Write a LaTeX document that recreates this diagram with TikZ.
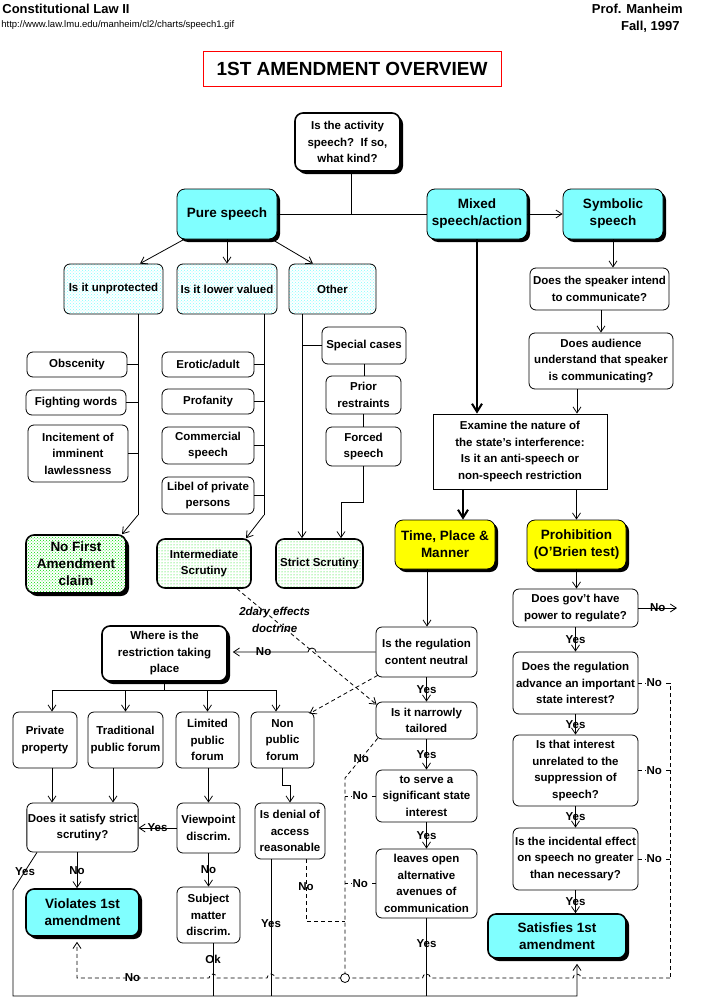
\documentclass[tikz,border=0pt]{standalone}
\usepackage{fontspec}
\setmainfont{Liberation Sans}
\usetikzlibrary{arrows.meta,shadows,patterns}

\definecolor{aqua}{HTML}{80FFFF}
\definecolor{lemon}{HTML}{FFFF00}
\definecolor{dotgreen}{HTML}{00E000}

\tikzset{
  box/.style={draw, line width=0.8pt, rounded corners=6pt, fill=white, align=center,
    inner sep=1pt, font=\bfseries\fontsize{11.5}{16.5}\selectfont},
  sz/.style 2 args={minimum width=#1pt, minimum height=#2pt},
  dropsh/.style={drop shadow={shadow xshift=3pt, shadow yshift=-3pt, fill=black, opacity=1}},
  bigtxt/.style={font=\bfseries\fontsize{13.5}{17}\selectfont},
  heavy/.style={line width=1.6pt},
  keybox/.style={box, bigtxt, rounded corners=8pt, dropsh, fill=aqua},
  sunbox/.style={box, bigtxt, rounded corners=8pt, dropsh, fill=lemon},
  askbox/.style={box, preaction={fill=white}, pattern=crosshatch dots, pattern color=aqua},
  scrbox/.style={box, heavy, rounded corners=8pt, preaction={fill=white}, pattern=dots, pattern color=dotgreen},
  nfabox/.style={box, bigtxt, heavy, rounded corners=8pt, dropsh, preaction={fill=white},
    pattern=crosshatch dots, pattern color=dotgreen},
  link/.style={line width=0.8pt, -{Straight Barb[length=6pt,width=8pt]}},
  fat/.style={line width=2pt, -{Straight Barb[length=8pt,width=10pt]}},
  dashline/.style={line width=0.8pt, dash pattern=on 4pt off 3pt},
  lbl/.style={font=\bfseries\fontsize{11.5}{12}\selectfont, inner sep=1pt},
  nolbl/.style={lbl, fill=white}
}

\begin{document}
\begin{tikzpicture}[x=1pt, y=-1pt, line width=0.8pt]
    \useasboundingbox (0,0) rectangle (708,998);

    % header
    \node[anchor=north west, inner sep=0pt, font=\bfseries\fontsize{13}{15}\selectfont] (course) at (2,4) {Constitutional Law II};
    \node[anchor=north west, inner sep=0pt, font=\fontsize{9.5}{11}\selectfont] (url) at (1,20) {http://www.law.lmu.edu/manheim/cl2/charts/speech1.gif};
    \node[anchor=north east, inner sep=0pt, font=\bfseries\fontsize{13}{15}\selectfont] (prof) at (683,4) {Prof. Manheim};
    \node[anchor=north east, inner sep=0pt, font=\bfseries\fontsize{13}{15}\selectfont] (term) at (680,21) {Fall, 1997};
    \node[draw=red, line width=1pt, sz={298}{35}, font=\bfseries\fontsize{19}{22}\selectfont] (title) at (352,69) {1ST AMENDMENT OVERVIEW};

    % top level
    \node[box, heavy, dropsh, rounded corners=8pt, sz={105}{58}] (act) at (347.5,142) {Is the activity\\speech?\ \ If so,\\what kind?};
    \node[keybox, sz={100}{50}] (ps) at (227,214) {Pure speech};
    \node[keybox, sz={100}{50}] (mx) at (477,214) {Mixed\\speech/action};
    \node[keybox, sz={100}{50}] (sy) at (613,214) {Symbolic\\speech};

    % pure speech branch
    \node[askbox, sz={99}{50}] (unp) at (113.5,289) {Is it unprotected};
    \node[askbox, sz={100}{50}] (low) at (227,289) {Is it lower valued};
    \node[askbox, sz={87}{50}] (oth) at (332.5,289) {Other};
    \node[box, sz={100}{25}] (obs) at (77,364.5) {Obscenity};
    \node[box, sz={100}{25}] (fig) at (76,402.5) {Fighting words};
    \node[box, sz={100}{57}] (inc) at (78,453.5) {Incitement of\\imminent\\lawlessness};
    \node[nfabox, sz={100}{58}] (nfa) at (76,564) {No First\\Amendment\\claim};
    \node[box, sz={92}{25}] (ero) at (208,364.5) {Erotic/adult};
    \node[box, sz={92}{25}] (prf) at (208,401.5) {Profanity};
    \node[box, sz={92}{37}] (com) at (208,445.5) {Commercial\\speech};
    \node[box, sz={92}{37}] (lib) at (208,495.5) {Libel of private\\persons};
    \node[scrbox, sz={94}{49}] (ims) at (204,563.5) {Intermediate\\Scrutiny};
    \node[scrbox, sz={87}{49}] (sts) at (319.5,563.5) {Strict Scrutiny};
    \node[box, sz={84}{37}] (spc) at (364,345.5) {Special cases};
    \node[box, sz={75}{38}] (pri) at (363.5,395) {Prior\\restraints};
    \node[box, sz={75}{39}] (frc) at (363.5,446.5) {Forced\\speech};

    % symbolic / mixed branch
    \node[box, sz={139}{42}] (spk) at (599.5,289) {Does the speaker intend\\to communicate?};
    \node[box, sz={144}{56}] (aud) at (601,361) {Does audience\\understand that speaker\\is communicating?};
    \node[box, sharp corners, sz={174}{75}] (exa) at (520,451.5) {Examine the nature of\\the state's interference:\\Is it an anti-speech or\\non-speech restriction};
    \node[sunbox, sz={100}{49}] (tpm) at (445,544.5) {Time, Place \&\\Manner};
    \node[sunbox, sz={99}{49}] (pro) at (576.5,544.5) {Prohibition\\(O'Brien test)};

    % O'Brien test
    \node[box, sz={125}{38}] (pow) at (575.5,608) {Does gov't have\\power to regulate?};
    \node[box, sz={125}{62}] (adv) at (575.5,683) {Does the regulation\\advance an important\\state interest?};
    \node[box, sz={125}{71}] (unr) at (575.5,770.5) {Is that interest\\unrelated to the\\suppression of\\speech?};
    \node[box, sz={125}{62}] (eff) at (575.5,859) {Is the incidental effect\\on speech no greater\\than necessary?};
    \node[keybox, heavy, sz={138}{44}] (sat) at (557,936) {Satisfies 1st\\amendment};

    % time, place and manner
    \node[box, sz={101}{50}] (cn) at (426.5,652) {Is the regulation\\content neutral};
    \node[box, sz={101}{37}] (nar) at (426.5,720.5) {Is it narrowly\\tailored};
    \node[box, sz={101}{52}] (sig) at (426.5,796) {to serve a\\significant state\\interest};
    \node[box, sz={101}{69}] (alt) at (426.5,883.5) {leaves open\\alternative\\avenues of\\communication};

    % forum analysis
    \node[box, heavy, dropsh, rounded corners=8pt, sz={125}{55}] (whr) at (164.5,653.5) {Where is the\\restriction taking\\place};
    \node[box, sz={64}{56}] (pp) at (45,740) {Private\\property};
    \node[box, sz={75}{56}] (tpf) at (125.5,740) {Traditional\\public forum};
    \node[box, sz={63}{56}] (lpf) at (207.5,740) {Limited\\public\\forum};
    \node[box, sz={63}{56}] (npf) at (282.5,740) {Non\\public\\forum};
    \node[box, sz={111}{49}] (sq) at (82.5,827.5) {Does it satisfy strict\\scrutiny?};
    \node[box, sz={63}{50}] (vpd) at (208.5,828) {Viewpoint\\discrim.};
    \node[box, sz={70}{56}] (den) at (290,831) {Is denial of\\access\\reasonable};
    \node[box, sz={63}{56}] (smd) at (208.5,915) {Subject\\matter\\discrim.};
    \node[keybox, heavy, sz={113}{47}] (vio) at (82.5,912.5) {Violates 1st\\amendment};

    % top connectors
    \draw ([xshift=4pt]act.south) -- ([xshift=4pt]act.south |- ps.east);
    \draw (ps.east) -- (mx.west);
    \draw[link] (mx.east) -- (sy.west);

    % pure speech
    \draw[link] ([xshift=-43pt]ps.south) -- ([xshift=26.5pt]unp.north);
    \draw[link] (ps.south) -- (low.north);
    \draw[link] ([xshift=45pt]ps.south) -- ([xshift=-19.5pt]oth.north);

    \coordinate (uj) at (138,515);
    \draw ([xshift=24.5pt]unp.south) -- (uj);
    \draw[link] (uj) -- ([xshift=46pt]nfa.north);
    \foreach \n in {obs,fig,inc} \draw (\n.east) -- (\n.east -| uj);

    \coordinate (lj) at (264,515);
    \draw ([xshift=37pt]low.south) -- (lj);
    \draw[link] (lj) -- ([xshift=42pt]ims.north);
    \foreach \n in {ero,prf,com,lib} \draw (\n.east) -- (\n.east -| lj);

    \coordinate (oj) at ([xshift=-30.5pt]oth.south);
    \draw[link] (oj) -- ([xshift=-17.5pt]sts.north);
    \draw (spc.west) -- (spc.west -| oj);
    \draw (spc.south) -- (spc.south |- pri.north);
    \draw (pri.south) -- (pri.south |- frc.north);
    \draw[link] (frc.south) -- ++(0,36) -| ([xshift=21.5pt]sts.north);

    % mixed and symbolic
    \draw[fat] (mx.south) -- (mx.south |- exa.north);
    \draw[fat] ([xshift=-57pt]exa.south) -- ([xshift=-57pt]exa.south |- tpm.north);
    \draw[link] (sy.south) -- (sy.south |- spk.north);
    \draw[link] (aud.north |- spk.south) -- (aud.north);
    \draw[link] ([xshift=-24pt]aud.south) -- ([xshift=-24pt]aud.south |- exa.north);
    \draw[link] (pro.north |- exa.south) -- (pro.north);
    \draw[link] (pro.south) -- (pro.south |- pow.north);

    % O'Brien chain
    \coordinate (pno) at (677,608);
    \draw[link] (pow.east) -- node[lbl]{No} (pno);
    \draw[link] (pow.south) -- node[lbl]{Yes} (adv.north);
    \draw[link] (adv.south) -- node[lbl]{Yes} (unr.north);
    \draw[link] (unr.south) -- node[lbl]{Yes} (eff.north);
    \draw[link] (eff.south) -- node[lbl]{Yes} (eff.south |- sat.north);

    \coordinate (rd) at (670,978);
    \draw[dashline] (adv.east) -- node[nolbl]{No} (adv.east -| rd) -- (rd);
    \draw[dashline] (unr.east) -- node[nolbl]{No} (unr.east -| rd);
    \draw[dashline] (eff.east) -- node[nolbl]{No} (eff.east -| rd);

    % time, place and manner chain
    \draw[link] ([xshift=-18pt]tpm.south) -- ([xshift=-18pt]tpm.south |- cn.north);
    \coordinate (hop) at (316,652);
    \draw[link] (cn.west) -- (hop) arc[start angle=0, end angle=180, radius=4pt]
        -- node[lbl, pos=0.59]{No} ([xshift=5pt]whr.east |- cn.west);
    \draw[link] (cn.south) -- node[lbl]{Yes} (nar.north);
    \draw[link] (nar.south) -- node[lbl]{Yes} (sig.north);
    \draw[link] (sig.south) -- node[lbl]{Yes} (alt.north);

    % forum tree
    \coordinate (wj) at ([yshift=-9pt]whr.south);
    \draw (whr.south) -- (wj);
    \draw[link] (wj) -| ([xshift=7pt]pp.north);
    \draw[link] (wj) -| (tpf.north);
    \draw[link] (wj) -| (lpf.north);
    \draw[link] (wj) -| ([xshift=-6.5pt]npf.north);
    \draw[link] ([xshift=7pt]pp.south) -- ([xshift=7pt]pp.south |- sq.north);
    \draw[link] ([xshift=-12.5pt]tpf.south) -- ([xshift=-12.5pt]tpf.south |- sq.north);
    \draw[link] (vpd.north |- lpf.south) -- (vpd.north);
    \draw[link] (npf.south) -- ++(0,17) -| (den.north);
    \draw[link] (vpd.west) -- node[lbl]{Yes} (vpd.west -| sq.east);
    \draw[link] (vpd.south) -- node[lbl]{No} (smd.north);
    \draw[link] ([xshift=-5.5pt]sq.south) -- node[lbl]{No} ([xshift=-5.5pt]vio.north);

    % solid yes bus
    \coordinate (bl) at (13,996);
    \coordinate (br) at (577,996);
    \draw[link] ([xshift=-45.5pt]sq.south) -- node[lbl]{Yes} (13,890) -- (bl) -- (br)
        -- ([xshift=20pt,yshift=-5pt]sat.south);
    \draw (alt.south) -- node[lbl, pos=0.33]{Yes} (alt.south |- bl);
    \draw ([xshift=4.5pt]smd.south) -- node[lbl, pos=0.3]{Ok} ([xshift=4.5pt]smd.south |- bl);
    \draw ([xshift=-19pt]den.south) -- node[lbl, pos=0.47]{Yes} ([xshift=-19pt]den.south |- bl);

    % dashed no bus
    \coordinate (lt) at (345,778);
    \coordinate (lc) at (345,978);
    \coordinate (ldj) at (345,921);
    \draw[dashline] ([xshift=2pt,yshift=1pt]nar.south west) -- node[lbl]{No} (lt) -- (lc);
    \draw[dashline] (sig.west) -- node[nolbl]{No} (sig.west -| lt);
    \draw[dashline] (alt.west) -- node[nolbl]{No} (alt.west -| lt);
    \draw[dashline] ([xshift=16pt]den.south) |- node[lbl, pos=0.22]{No} (ldj);
    \draw[dashline, link] (rd) -- (581,978) arc[start angle=0, end angle=180, radius=4pt]
        -- (430.5,978) arc[start angle=0, end angle=180, radius=4pt]
        -- (lc) -- (275,978) arc[start angle=0, end angle=180, radius=4pt]
        -- (217,978) arc[start angle=0, end angle=180, radius=4pt]
        -- node[lbl, pos=0.58]{No} (77,978) -- ([xshift=-5.5pt,yshift=-5pt]vio.south);
    \draw[fill=white] (lc) circle[radius=4.5pt];

    % secondary effects
    \draw[dashline, link] ([xshift=33pt]ims.south)
        -- node[lbl, pos=0.27, align=center, font=\bfseries\itshape\fontsize{11.5}{17}\selectfont]{2dary effects\\doctrine}
        ([xshift=1pt,yshift=-3pt]nar.north west);
    \draw[dashline, link] ([xshift=2pt,yshift=2pt]cn.south west) -- ([xshift=-5pt,yshift=-2pt]npf.north east);
\end{tikzpicture}
\end{document}
